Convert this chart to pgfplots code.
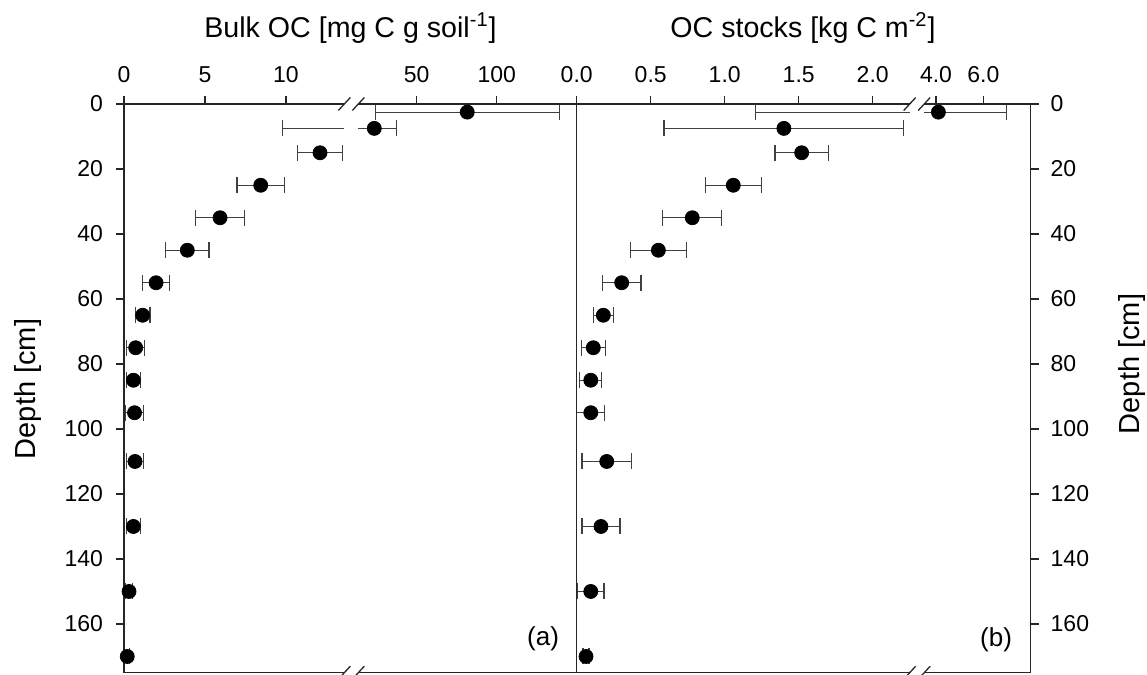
\documentclass[border=0pt]{standalone}
\usepackage{pgfplots}
\pgfplotsset{compat=1.18}
\usepackage{pgfplotstable}
\usepackage{fontspec}
\setmainfont{Liberation Sans}

% bulk OC, points that fall in the low segment (0-13.6)
\pgfplotstableread{
d v e
15 12.10 1.40
25 8.44 1.47
35 5.93 1.53
45 3.91 1.34
55 1.98 0.84
65 1.15 0.45
75 0.72 0.55
85 0.58 0.43
95 0.65 0.55
110 0.68 0.53
130 0.58 0.43
150 0.31 0.20
170 0.20 0.15
}\bulklow
% OC stocks, low segment (0-2.25)
\pgfplotstableread{
d v e
7.5 1.40 0.81
15 1.52 0.18
25 1.058 0.19
35 0.781 0.20
45 0.552 0.19
55 0.304 0.13
65 0.180 0.068
75 0.112 0.082
85 0.095 0.075
95 0.095 0.095
110 0.203 0.167
130 0.164 0.128
150 0.095 0.09
170 0.063 0.02
}\stocklow

\tikzset{axframe/.style={black!85, line width=0.65pt}}
\pgfplotsset{
  panel/.style={
    scale only axis, anchor=north west, height=284.35pt,
    ymin=0, ymax=175, y dir=reverse, clip=false,
    axis x line*=top, axis line style={draw=none},
    tick align=outside, major tick length=4pt,
    tick style={black!85, line width=0.6pt},
    ytick=\empty,
    tick label style={font=\fontsize{11.5}{13}\selectfont},
    xticklabel style={yshift=3pt},
    /pgf/number format/assume math mode=true,
  },
  dots/.style={only marks, mark=*, mark size=3.5pt, black,
    error bars/.cd, x dir=both, x explicit, error mark=|,
    error bar style={line width=0.6pt, black!75},
    error mark options={line width=0.6pt, black!75, mark size=4pt}},
  dotsplus/.style={only marks, mark=*, mark size=3.5pt, black,
    error bars/.cd, x dir=plus, x explicit, error mark=|,
    error bar style={line width=0.6pt, black!75},
    error mark options={line width=0.6pt, black!75, mark size=4pt}},
  eline/.style={no marks, line width=0.6pt, black!75},
  ecap/.style={only marks, mark=|, mark size=4pt, black!75, mark options={line width=0.6pt}},
}

\begin{document}
\begin{tikzpicture}[x=0.5pt,y=-0.5pt]
\path[use as bounding box] (0,0) rectangle (1147,675);

% (a) low segment
\begin{axis}[panel, at={(62pt,-52pt)}, width=110.15pt, xmin=0, xmax=13.6,
  xtick={0,5,10}, axis y line*=left, ytick={0,20,...,160},
  yticklabel style={xshift=-3pt}]
\addplot[dots] table[x=v, y=d, x error=e]{\bulklow};
\addplot[eline] coordinates {(9.8,7.5) (13.6,7.5)};
\addplot[ecap] coordinates {(9.8,7.5)};
\draw[axframe] (axis description cs:0,0) -- (axis description cs:0,1) -- (axis description cs:1,1);
\draw[axframe] (axis description cs:0,0) -- (axis description cs:1,0);
\draw[axframe] ([shift={(-3pt,-3.25pt)}]axis description cs:1,1) -- ++(6pt,6.5pt);
\draw[axframe] ([shift={(-3pt,-3.25pt)}]axis description cs:1,0) -- ++(6pt,6.5pt);
\end{axis}

% (a) high segment
\begin{axis}[panel, at={(179.15pt,-52pt)}, width=109.2pt, xmin=13.5, xmax=150,
  xtick={50,100}]
\addplot[dots] coordinates {(81.6,2.5) +- (57.6,0)};
\addplot[dotsplus] coordinates {(23.5,7.5) +- (13.7,0)};
\addplot[eline] coordinates {(13.5,7.5) (23.5,7.5)};
\draw[axframe] (axis description cs:0,1) -- (axis description cs:1,1) -- (axis description cs:1,0) -- (axis description cs:0,0);
\draw[axframe] ([shift={(-3pt,-3.25pt)}]axis description cs:0,1) -- ++(6pt,6.5pt);
\draw[axframe] ([shift={(-3pt,-3.25pt)}]axis description cs:0,0) -- ++(6pt,6.5pt);
\end{axis}

% (b) low segment
\begin{axis}[panel, at={(288.35pt,-52pt)}, width=166.5pt, xmin=0, xmax=2.25,
  xtick={0,0.5,1,1.5,2}, xticklabels={0.0,0.5,1.0,1.5,2.0}]
\addplot[dots] table[x=v, y=d, x error=e]{\stocklow};
\addplot[eline] coordinates {(1.21,2.5) (2.25,2.5)};
\addplot[ecap] coordinates {(1.21,2.5)};
\draw[axframe] (axis description cs:1,1) -- (axis description cs:0,1) -- (axis description cs:0,0) -- (axis description cs:1,0);
\draw[axframe] ([shift={(-3pt,-3.25pt)}]axis description cs:1,1) -- ++(6pt,6.5pt);
\draw[axframe] ([shift={(-3pt,-3.25pt)}]axis description cs:1,0) -- ++(6pt,6.5pt);
\end{axis}

% (b) high segment
\begin{axis}[panel, at={(462.1pt,-52pt)}, width=53.2pt, xmin=3.5, xmax=8,
  xtick={4,6}, xticklabels={4.0,6.0}, axis y line*=right, ytick={0,20,...,160},
  yticklabel style={xshift=2.5pt}]
\addplot[dotsplus] coordinates {(4.10,2.5) +- (2.89,0)};
\addplot[eline] coordinates {(3.5,2.5) (4.10,2.5)};
\draw[axframe] (axis description cs:0,1) -- (axis description cs:1,1) -- (axis description cs:1,0) -- (axis description cs:0,0);
\draw[axframe] ([shift={(-3pt,-3.25pt)}]axis description cs:0,1) -- ++(6pt,6.5pt);
\draw[axframe] ([shift={(-3pt,-3.25pt)}]axis description cs:0,0) -- ++(6pt,6.5pt);
\end{axis}

\node[anchor=base, font=\fontsize{14.3}{16}\selectfont] at (350.5,37) {Bulk OC [mg C g soil\textsuperscript{-1}]};
\node[anchor=base, font=\fontsize{14.3}{16}\selectfont] at (803,37) {OC stocks [kg C m\textsuperscript{-2}]};
\node[rotate=90, font=\fontsize{14.5}{16}\selectfont] at (28,389) {Depth [cm]};
\node[rotate=90, font=\fontsize{14.5}{16}\selectfont] at (1132,364) {Depth [cm]};
\node[anchor=east, font=\fontsize{13}{15}\selectfont] at (566,639) {(a)};
\node[anchor=east, font=\fontsize{13}{15}\selectfont] at (1019,640) {(b)};
\end{tikzpicture}
\end{document}
